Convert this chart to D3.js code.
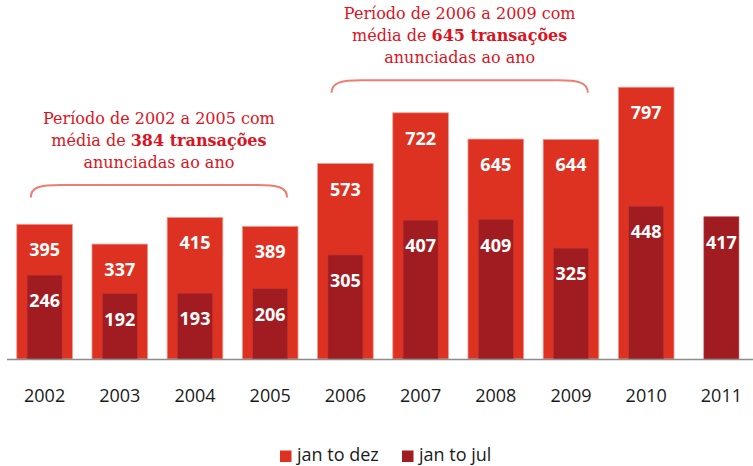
<!DOCTYPE html>
<html>
<head>
<meta charset="utf-8">
<script src="https://cdn.jsdelivr.net/npm/d3@7"></script>
<style>
  body { margin: 0; background: #fff; }
  svg { display: block; }
</style>
</head>
<body>
<div id="chart"></div>
<script>
// data
const years = ["2002", "2003", "2004", "2005", "2006", "2007", "2008", "2009", "2010", "2011"];
const fullYear = [395, 337, 415, 389, 573, 722, 645, 644, 797, null];   // jan to dez
const firstHalf = [246, 192, 193, 206, 305, 407, 409, 325, 448, 417];   // jan to jul
const seriesNames = ["jan to dez", "jan to jul"];
const seriesColors = ["#dd3222", "#a11c20"];

const periods = [
    {from: "2002", to: "2005", lines: ["Período de 2002 a 2005 com", ["média de ", "384 transações"], "anunciadas ao ano"]},
    {from: "2006", to: "2009", lines: ["Período de 2006 a 2009 com", ["média de ", "645 transações"], "anunciadas ao ano"]}
];

const width = 753, height = 466;
const baseY = 359;

const svg = d3.select('#chart')
    .append('svg')
    .attr('width', width)
    .attr('height', height);

const x = d3.scaleBand()
    .domain(years)
    .range([7, 759])
    .padding(0);

const y = d3.scaleLinear()
    .domain([0, 800])
    .range([baseY, 86.2]);

const step = x.bandwidth();
const outerW = step * 0.74;
const innerW = step * 0.465;
const cx = d => x(d) + step / 2;

// outer bars (jan to dez)
const rows = years.map((yr, i) => ({year: yr, full: fullYear[i], half: firstHalf[i]}));

svg.selectAll(".outer")
    .data(rows.filter(d => d.full != null))
    .enter().append("rect")
    .attr("class", "outer")
    .attr("x", d => cx(d.year) - outerW / 2)
    .attr("y", d => y(d.full))
    .attr("width", outerW)
    .attr("height", d => baseY - y(d.full))
    .attr("fill", seriesColors[0])
    .attr("stroke", "#f19a90")
    .attr("stroke-width", 0.8);

svg.selectAll(".inner")
    .data(rows)
    .enter().append("rect")
    .attr("class", "inner")
    .attr("x", d => cx(d.year) - innerW / 2)
    .attr("y", d => y(d.half))
    .attr("width", innerW)
    .attr("height", d => baseY - y(d.half))
    .attr("fill", seriesColors[1])
    .attr("stroke", "#b8383a")
    .attr("stroke-width", 0.6);

// value labels
const labelFont = "'Open Sans', sans-serif";
svg.selectAll(".outerLabel")
    .data(rows.filter(d => d.full != null))
    .enter().append("text")
    .attr("x", d => cx(d.year))
    .attr("y", d => y(d.full) + 32)
    .attr("text-anchor", "middle")
    .style("font-family", labelFont)
    .style("font-weight", "bold")
    .style("font-size", "18px")
    .attr("fill", "#fff")
    .text(d => d.full);

svg.selectAll(".innerLabel")
    .data(rows)
    .enter().append("text")
    .attr("x", d => cx(d.year))
    .attr("y", d => y(d.half) + 32)
    .attr("text-anchor", "middle")
    .style("font-family", labelFont)
    .style("font-weight", "bold")
    .style("font-size", "18px")
    .attr("fill", "#fff")
    .text(d => d.half);

// baseline + year labels
svg.append("line")
    .attr("x1", 7).attr("x2", 753)
    .attr("y1", baseY + 0.5).attr("y2", baseY + 0.5)
    .attr("stroke", "#8c8c8c")
    .attr("stroke-width", 1.6);

const xAxis = svg.append("g")
    .attr("transform", `translate(0, ${baseY})`)
    .call(d3.axisBottom(x).tickSize(0).tickPadding(0));
xAxis.select(".domain").remove();
xAxis.selectAll("text")
    .attr("y", 0)
    .attr("dy", null)
    .attr("transform", "translate(0, 43)")
    .style("font-family", labelFont)
    .style("font-size", "18px")
    .attr("fill", "#1a1a1a");

// period annotations
periods.forEach(function (p) {
    const x0 = x(p.from) + step / 2 - outerW / 2 + 14;
    const x1 = x(p.to) + step / 2 + outerW / 2 - 11;
    const mid = (x0 + x1) / 2;
    // top of the tallest bar in the period decides where the brace sits
    const i0 = years.indexOf(p.from), i1 = years.indexOf(p.to);
    const top = y(d3.max(fullYear.slice(i0, i1 + 1)));
    const yEnd = top - 20;
    const yTop = yEnd - 12.5;

    svg.append("path")
        .attr("d", `M${x0},${yEnd} C${x0},${yTop + 2} ${x0 + 10},${yTop} ${x0 + 30},${yTop} L${x1 - 30},${yTop} C${x1 - 10},${yTop} ${x1},${yTop + 2} ${x1},${yEnd}`)
        .attr("fill", "none")
        .attr("stroke", "#ef7d72")
        .attr("stroke-width", 2);

    const t = svg.append("text")
        .attr("text-anchor", "middle")
        .style("font-family", "Georgia, 'DejaVu Serif', serif")
        .style("font-size", "16px")
        .attr("fill", "#d9141e");
    p.lines.forEach(function (line, k) {
        const ty = yTop - 61 + k * 22;
        if (Array.isArray(line)) {
            const ts = t.append("tspan").attr("x", mid).attr("y", ty);
            ts.append("tspan").text(line[0]);
            ts.append("tspan").style("font-weight", "bold").text(line[1]);
        } else {
            t.append("tspan").attr("x", mid).attr("y", ty).text(line);
        }
    });
});

// legend
const legend = svg.append("g").attr("class", "legend");
const legendX = [280, 402];
seriesNames.forEach(function (name, i) {
    legend.append("rect")
        .attr("x", legendX[i])
        .attr("y", 450.5)
        .attr("width", 11.5)
        .attr("height", 11.5)
        .attr("fill", seriesColors[i]);
    legend.append("text")
        .attr("x", legendX[i] + 17)
        .attr("y", 461)
        .style("font-family", labelFont)
        .style("font-size", "18px")
        .attr("fill", "#1a1a1a")
        .text(name);
});
</script>
</body>
</html>
